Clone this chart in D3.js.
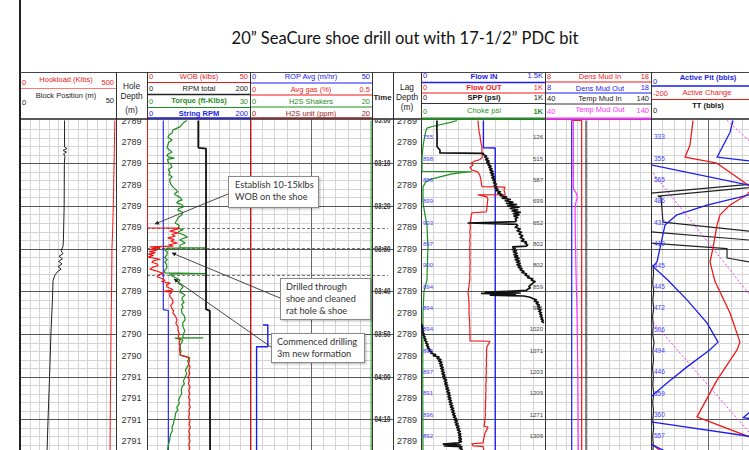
<!DOCTYPE html>
<html><head><meta charset="utf-8">
<script src="https://cdn.jsdelivr.net/npm/d3@7/dist/d3.min.js"></script>
<style>html,body{margin:0;padding:0;background:#fff}svg{display:block}</style>
</head><body><svg id="chart" width="749" height="450"></svg>
<script>
// ================= DATA =================
const titleText = "20\u201D SeaCure shoe drill out with 17-1/2\u201D PDC bit";
// time axis in minutes after 03:00
const timeTickMinutes = [0,10,20,30,40,50,60,70];
const timeTickLabels  = ["03:00","03:10","03:20","03:30","03:40","03:50","04:00","04:10"];
const depthRowMinutes = [0,5,10,15,20,25,30,35,40,45,50,55,60,65,70,75];
const holeDepthLabels = ["2789","2789","2789","2789","2789","2789","2789","2789","2789","2789","2790","2790","2791","2791","2791","2791"];
const lagDepthLabels  = ["2789","2789","2789","2789","2789","2789","2789","2789","2789","2789","2789","2789","2789","2789","2789","2789"];
const flowInLabels = ["755","898","896","899","903","897","900","894","894","894","895","897","891","896","892"];
const sppLabels    = ["126","515","587","699","652","802","802","859","981","1020","1071","1203","1209","1271","1309"];
const pitLabels    = ["333","355","565","486","432","419","445","445","472","506","494","446","359","360","557"];
const eventMinutes = [25.2, 29.85, 36.2];

const hookload = [[0,494],[5,492],[10,490],[15,488],[20,486],[25,483],[30,479],[35,478],[40,477],[45,475],[50,474],[55,473],[60,472],[65,471],[70,470],[77.3,469]];
const blockPos = [[0,23.2],[6.2,23.2],[6.6,24.5],[7.0,22.4],[7.4,24.2],[7.8,22.7],[8.4,23.4],[10,23.1],[20,23.0],[28,22.6],[29.5,22.4],[30.5,21.4],[31.2,22.4],[31.8,20.3],[32.4,22.1],[33.0,20.1],[33.6,21.9],[34.2,19.8],[34.8,21.4],[35.4,19.5],[36.2,18.2],[37.5,17.2],[42,16.9],[50,16.1],[60,15.4],[70,14.6],[77.3,14.1]];

const wob = [[0,0.2],[25.15,0.2],[25.2,16.0],[25.5,14.1],[25.9,11.2],[26.3,15.0],[26.7,12.1],[27.1,13.6],[27.5,10.2],[27.9,13.1],[28.3,11.7],[28.7,14.6],[29.1,10.7],[29.4,12.6],[29.6,1.5],[29.85,6.3],[30.1,2.0],[30.4,4.5],[30.7,1.2],[31.0,3.9],[31.3,0.8],[31.6,3.0],[32.0,0.5],[32.5,6.3],[32.8,3.2],[33.2,2.4],[33.6,5.0],[34.0,5.3],[34.4,2.6],[34.8,1.5],[35.2,4.4],[35.8,7.8],[36.2,5.4],[36.6,4.9],[37.0,7.2],[37.4,8.7],[37.7,7.1],[38.1,11.2],[38.5,9.5],[39.0,9.7],[39.4,11.8],[39.7,12.6],[40.0,7.8],[40.2,12.1],[40.7,11.0],[41.3,11.2],[41.9,12.4],[42.7,12.6],[43.3,11.5],[44.0,12.1],[44.6,12.9],[45.1,12.6],[45.8,13.8],[46.7,14.6],[47.5,14.0],[48.3,15.1],[49.1,15.0],[49.9,15.6],[50.6,15.2],[51.4,16.0],[52.2,15.6],[53.0,16.1],[53.7,15.7],[54.4,16.0],[55.0,16.3],[55.4,19.9],[56.2,20.6],[57.0,20.2],[57.7,20.9],[58.5,20.3],[59.3,20.8],[60.1,19.9],[60.8,20.6],[61.6,20.1],[62.4,20.9],[63.2,20.3],[64.0,20.8],[64.7,20.2],[65.5,20.9],[66.3,20.4],[67.1,21.0],[67.9,20.3],[68.7,20.7],[69.5,20.2],[70.3,20.9],[71.1,20.5],[71.9,21.0],[72.7,20.3],[73.5,20.8],[74.3,20.4],[75.1,20.9],[75.9,20.3],[76.7,20.8],[77.3,20.5]];
const rpmTotal = [[0,99.6],[6.2,99.6],[6.4,101],[6.6,114.6],[44.2,114.6],[44.6,122],[77.3,122.5]];
const torque = [[0,11.6],[0.6,10.5],[1.5,9.6],[2.2,7.6],[2.9,7.3],[3.4,6.4],[3.9,6.1],[4.6,7.3],[5.1,6.3],[5.7,6.1],[6.4,5.8],[6.9,6.6],[7.4,7.3],[8.1,5.8],[8.5,6.2],[8.8,7.9],[9.1,6.0],[9.7,6.1],[10.3,6.9],[10.9,7.3],[11.5,6.2],[12.1,6.7],[12.7,6.4],[13.2,7.3],[13.8,6.6],[14.4,6.7],[15.0,7.0],[15.6,7.6],[16.2,8.4],[16.7,9.0],[17.1,8.0],[17.4,8.2],[18.0,9.6],[18.6,10.2],[19.0,8.9],[19.3,8.7],[19.8,10.4],[20.3,10.5],[20.6,9.2],[21.0,9.0],[21.5,10.4],[22.1,10.2],[22.7,9.1],[23.3,8.7],[24.0,8.2],[24.6,9.4],[25.2,9.0],[25.6,10.5],[26.0,9.3],[26.3,9.0],[26.8,10.8],[27.3,11.7],[27.7,10.2],[28.0,9.6],[28.4,10.6],[28.7,11.1],[29.1,9.8],[29.4,9.6],[29.8,9.6],[29.82,16.9],[29.88,5.8],[30.3,5.2],[30.8,5.9],[31.5,5.8],[32.1,5.1],[32.6,5.9],[33.1,5.2],[33.7,5.7],[34.5,5.8],[35.1,5.1],[35.7,5.2],[35.85,16.9],[35.95,6.7],[36.6,7.6],[37.0,8.8],[37.4,9.6],[37.8,9.2],[38.1,9.0],[38.6,10.1],[39.0,10.5],[39.6,9.8],[40.2,9.6],[40.6,10.6],[40.9,11.1],[41.4,10.3],[42.0,10.2],[42.6,10.8],[43.1,10.1],[43.7,10.5],[44.3,10.0],[45.1,10.2],[45.8,10.9],[46.7,11.1],[47.4,10.4],[48.4,10.5],[49.2,11.0],[50.3,10.5],[50.85,10.5],[50.9,16.3],[50.95,8.2],[51.4,10.4],[51.9,10.2],[52.5,9.7],[53.0,9.6],[54.0,9.9],[54.9,9.6],[55.6,12.5],[56.3,11.8],[57.0,12.2],[57.7,11.7],[58.5,11.2],[59.3,11.6],[60.1,11.1],[61.0,10.6],[61.7,10.9],[62.4,10.2],[63.3,10.0],[64.0,10.1],[64.7,9.6],[65.5,9.2],[66.3,9.4],[67.1,8.7],[67.9,8.9],[68.6,8.3],[69.4,8.2],[70.2,7.9],[71.0,7.7],[71.8,7.3],[72.6,7.4],[73.4,6.9],[74.1,6.7],[74.9,6.6],[75.7,6.3],[76.5,6.1],[77.3,6.0]];
const stringRpm = [[0,31.6],[44.3,31.6],[44.5,41.4],[77.3,41.4]];

const ropAvg = [[47.9,5.3],[53.0,7.3],[64.7,2.7],[77.3,2.7]];
const avgGas = [[0,0.004],[77.3,0.004]];
const h2sShakers = [[0,19.85],[77.3,19.85]];
const h2sUnit = [[0,0],[77.3,0]];

const flowIn = [[0,755],[6.4,755],[6.45,898],[77.3,898]];
const flowOut = [[0,460],[1,462],[2,466],[3,470],[3.5,476],[4.5,479],[5.3,484],[6.1,492],[7,490],[8,494],[8.8,492],[9.2,470],[9.5,435],[10,403],[10.5,419],[11,395],[11.6,411],[12.1,460],[12.6,470],[13,476],[14,484],[15,488],[15.5,492],[15.6,677],[16.3,669],[17.0,677],[17.35,677],[17.4,460],[17.9,532],[18.5,540],[19,536],[20.3,532],[21.0,530],[21.4,524],[21.6,411],[22.3,405],[23,403],[24,395],[25,398],[26,394],[27,397],[28,393],[29,396],[30,392],[31,396],[32,393],[33,397],[34,394],[35,396],[36,392],[37,395],[38,390],[39,386],[40.4,379],[41.5,384],[43,388],[45,387],[47,392],[49,394],[51,395],[51.6,395],[51.7,556],[52.3,545],[53,532],[54,528],[55,530],[56,526],[57,529],[58,525],[59,527],[60,524],[61,526],[62,522],[63,525],[64,521],[65,523],[66,519],[67,521],[68,517],[69,520],[70,516],[71,512],[71.6,508],[71.8,540],[72.4,532],[73.2,516],[74,510],[75.5,500],[75.7,411],[76.2,420],[76.3,500],[77.3,508]];
const spp = [[0,129],[2,128],[4,130],[6.1,129],[6.5,140],[6.9,153],[7.6,153],[7.7,500],[8.0,505],[8.3,528],[8.6,515],[8.9,540],[9.2,522],[9.5,548],[9.8,530],[10.1,556],[10.4,540],[10.7,565],[11.0,548],[11.3,572],[11.6,555],[11.9,580],[12.2,560],[12.5,585],[12.8,568],[13.1,590],[13.4,572],[13.7,596],[14.0,580],[14.3,600],[14.6,585],[14.9,608],[15.2,590],[15.5,612],[15.8,598],[16.1,620],[16.4,605],[16.7,640],[17.0,620],[17.3,650],[17.6,640],[17.9,690],[18.2,655],[18.5,720],[18.8,680],[19.1,740],[19.4,690],[19.7,770],[20.0,700],[20.3,790],[20.6,720],[20.9,780],[21.2,735],[21.5,800],[21.8,745],[22.1,790],[22.4,750],[22.7,780],[23.0,760],[23.4,770],[23.7,760],[24.0,380],[24.3,770],[24.6,780],[25.0,760],[25.4,800],[25.8,775],[26.2,810],[26.6,790],[27.0,820],[27.4,800],[27.8,830],[28.2,810],[28.5,850],[28.8,840],[29.1,860],[29.4,850],[29.6,740],[29.9,760],[30.2,735],[30.5,770],[30.8,745],[31.1,775],[31.4,750],[31.7,780],[32.0,755],[32.3,790],[32.6,760],[32.9,795],[33.2,770],[33.5,800],[33.8,775],[34.1,805],[34.4,785],[34.7,815],[35.0,800],[35.3,830],[35.6,815],[35.9,850],[36.2,840],[36.5,870],[36.8,860],[37.1,900],[37.4,890],[37.7,920],[38.0,905],[38.3,895],[38.6,880],[38.9,870],[39.2,880],[39.5,860],[39.8,850],[40.0,700],[40.2,520],[40.4,800],[40.5,490],[40.7,760],[40.9,560],[41.1,830],[41.4,880],[41.7,900],[42.0,930],[42.3,915],[42.6,945],[42.9,930],[43.2,955],[43.5,940],[43.8,960],[44.1,945],[44.4,965],[44.7,950],[45.0,972],[45.3,958],[45.6,975],[45.9,962],[46.2,980],[46.5,968],[46.8,985],[47.1,975],[47.4,992],[47.6,1010],[47.9,1004],[48.2,1014],[48.5,1006],[48.8,1018],[49.1,1008],[49.4,1020],[49.7,1012],[50.0,1026],[50.3,1016],[50.6,1032],[50.9,1022],[51.2,1040],[51.5,1030],[51.8,1048],[52.1,1038],[52.4,1056],[52.7,1044],[53.0,1062],[53.3,1052],[53.6,1072],[53.9,1064],[54.2,1090],[54.5,1080],[54.8,1118],[55.1,1100],[55.4,1145],[55.7,1130],[56.0,1160],[56.3,1142],[56.6,1168],[56.9,1150],[57.2,1172],[57.5,1155],[57.8,1178],[58.1,1160],[58.4,1182],[58.7,1165],[59.0,1188],[59.3,1170],[59.6,1192],[59.9,1176],[60.2,1200],[60.5,1182],[60.8,1206],[61.1,1188],[61.4,1210],[61.7,1192],[62.0,1215],[62.3,1198],[62.6,1220],[62.9,1202],[63.2,1226],[63.5,1208],[63.8,1232],[64.1,1214],[64.4,1236],[64.7,1218],[65.0,1240],[65.3,1222],[65.6,1244],[65.9,1228],[66.2,1250],[66.5,1232],[66.8,1256],[67.1,1238],[67.4,1262],[67.7,1244],[68.0,1266],[68.3,1250],[68.6,1272],[68.9,1256],[69.2,1278],[69.5,1262],[69.8,1285],[70.1,1268],[70.4,1292],[70.7,1274],[71.0,1298],[71.3,1280],[71.6,1305],[71.9,1288],[72.2,1310],[72.5,1294],[72.8,1316],[73.1,1300],[73.4,1320],[73.7,1304],[74.0,1322],[74.3,1306],[74.6,1325],[74.9,1308],[75.2,1326],[75.5,1300],[75.8,1180],[76.0,1320],[76.2,1190],[76.4,1330],[76.7,1312],[77.0,1332],[77.3,1318]];
const choke = [[0,290],[0.5,230],[1.0,153],[1.4,90],[1.8,48],[2.6,38],[3.4,32],[5,22],[6.1,16],[8.8,8],[11.9,8],[12.0,411],[12.2,330],[12.5,250],[13.2,153],[13.9,60],[14.5,35],[15.6,16],[19.1,16],[22.1,32],[24.5,48],[29.6,56],[33,52],[37.4,48],[40,24],[45,16],[60,14],[77.3,16]];

const densIn  = [[0,10.52],[28.7,11.46],[77.3,11.46]];
const densOut = [[0,10.52],[77.3,10.52]];
const tempIn  = [[0,78.7],[77.3,78.7]];
const tempOut = [[0,66.7],[16.0,66.8],[17.0,69.5],[18.0,70.5],[19.3,69.0],[21.0,68.3],[35,69.2],[45,70.2],[60,71.0],[77.3,71.4]];

const activePitSegs = [
  [[0,359.6],[2.8,346.5],[8.6,289.5],[9.9,500]],
  [[10.4,0],[15.9,500]],
  [[16.5,500],[19.8,245.6],[22.1,114],[24.5,61.4],[29.9,39.5],[33.1,26.3],[34.2,8.8],[37.4,74.6],[42.0,157.9],[47.4,245.6],[51.9,293.9],[53.7,258.8],[57.7,157.9],[61.5,70.2],[64.3,8.8],[64.6,0]],
  [[65.5,500],[69.6,403.5],[70.3,500]],
  [[70.6,0],[74.5,500]],
  [[75.8,0],[77.3,57]]
];
const activeChangeSegs = [
  [[0,-52.6],[5.8,-63.2],[8.6,-80.7],[10.0,31.6],[15.1,140.4],[16.0,154],[17.4,136.8],[19.8,77.2],[22.1,42.1],[24.5,31.6],[29.9,17.5],[33.1,7.0],[37.6,24],[45.1,77.2],[51.9,112.3],[53.7,101.8],[60.8,31.6],[69.4,-38.6],[75.5,200]],
  [[76.0,-193],[77.3,-168]]
];
const ttSegs = [
  [[14.6,100],[17.0,0]],
  [[15.4,100],[17.7,6.1],[17.9,8.8],[23.8,10.5],[26.3,100]],
  [[26.1,0],[28.3,100]],
  [[28.7,0],[30.0,66.7],[32.2,66.7],[33.8,100]],
  [[33.8,1.8],[36,2.2],[38,1.5],[40,2.4],[42,1.6],[44,2.3],[46,1.4],[48,2.0],[50,1.5],[52,2.6],[54,1.7],[56,2.2],[58,1.4],[60,2.1],[62,1.6],[64,2.4],[66,1.5],[68,2.2],[70,1.6],[72,2.3],[74,1.5],[76,2.0],[77.3,1.7]]
];
const pitTotalSegs = [
  [[0,66.7],[5.2,88]],
  [[12.3,1.75],[45.3,100]],
  [[47.2,1.75],[77.3,100]]
];

// ================= DRAWING =================
const FONT = '"Liberation Sans", Arial, Helvetica, sans-serif';
const svg = d3.select('#chart');
const y = d3.scaleLinear().domain([0, 77.5]).range([120.5, 120.5 + 77.5 * 4.27]);
const TR = {t1:[20,116], t2:[147,250], t3:[250,372], t4:[421,545], t5:[545,651], t6:[651,765]};
const DARKMID = {t3:true, t6:true};

const xs = {
  hook: d3.scaleLinear([0,500], TR.t1), block: d3.scaleLinear([0,50], TR.t1),
  wob: d3.scaleLinear([0,50], TR.t2), rpm: d3.scaleLinear([0,200], TR.t2),
  torque: d3.scaleLinear([0,30], TR.t2), srpm: d3.scaleLinear([0,200], TR.t2),
  rop: d3.scaleLinear([0,50], TR.t3), gas: d3.scaleLinear([0,0.5], TR.t3),
  h2sS: d3.scaleLinear([0,20], TR.t3), h2sU: d3.scaleLinear([0,20], TR.t3),
  flowIn: d3.scaleLinear([0,1500], TR.t4), flowOut: d3.scaleLinear([0,1000], TR.t4),
  spp: d3.scaleLinear([0,1000], TR.t4), choke: d3.scaleLinear([0,1000], TR.t4),
  dens: d3.scaleLinear([8,18], TR.t5), temp: d3.scaleLinear([40,140], TR.t5),
  pit: d3.scaleLinear([0,500], TR.t6), chg: d3.scaleLinear([-200,200], TR.t6),
  tt: d3.scaleLinear([0,100], TR.t6), pvt: d3.scaleLinear([0,100], TR.t6)
};

const defs = svg.append('defs');
Object.entries(TR).forEach(([k,[a,b]]) => {
  defs.append('clipPath').attr('id','clip-'+k).append('rect')
    .attr('x',a).attr('y',119.5).attr('width',b-a).attr('height',340);
});
defs.append('clipPath').attr('id','clip-data').append('rect')
  .attr('x',0).attr('y',119.5).attr('width',749).attr('height',340);
const mk = defs.append('marker').attr('id','arrow').attr('viewBox','0 0 10 10')
  .attr('refX',9).attr('refY',5).attr('markerWidth',5).attr('markerHeight',5).attr('orient','auto');
mk.append('path').attr('d','M0,0L10,5L0,10z').attr('fill','#222');
const shadow = defs.append('filter').attr('id','shadow').attr('x','-10%').attr('y','-10%').attr('width','130%').attr('height','140%');
shadow.append('feDropShadow').attr('dx',1.2).attr('dy',1.2).attr('stdDeviation',0.8).attr('flood-color','#000').attr('flood-opacity',0.25);

svg.append('rect').attr('width',749).attr('height',450).attr('fill','#fff');

// ---- grid
const grid = svg.append('g').attr('clip-path','url(#clip-data)');
const minorT = d3.range(2, 78, 2).filter(t => t % 10 !== 0);
const majorT = d3.range(10, 78, 10);
const cy = v => Math.round(v) + 0.5;
Object.entries(TR).forEach(([k,[a,b]]) => {
  minorT.forEach(t => grid.append('line').attr('x1',a).attr('x2',b).attr('y1',cy(y(t))).attr('y2',cy(y(t)))
    .attr('stroke','#d4d4d4').attr('stroke-width',1));
  for (let i = 1; i < 10; i++) {
    const x = cy(a + (b - a) * i / 10);
    const dark = (i === 5 && DARKMID[k]);
    grid.append('line').attr('x1',x).attr('x2',x).attr('y1',119).attr('y2',450)
      .attr('stroke', dark ? '#666' : '#d4d4d4').attr('stroke-width',1);
  }
});
[[20,116],[147,393],[421,749]].forEach(([a,b]) => {
  majorT.forEach(t => grid.append('line').attr('x1',a).attr('x2',b).attr('y1',cy(y(t))).attr('y2',cy(y(t)))
    .attr('stroke','#555').attr('stroke-width',1));
});

// ---- event dashed lines
eventMinutes.forEach(t => svg.append('line').attr('x1',147).attr('x2',388)
  .attr('y1',cy(y(t))).attr('y2',cy(y(t))).attr('stroke','#777').attr('stroke-width',1).attr('stroke-dasharray','3,2'));

// ---- column borders
[116,147,250,372,393,421,545,651].forEach(x => svg.append('line').attr('x1',x+0.5).attr('x2',x+0.5)
  .attr('y1',72).attr('y2',450).attr('stroke','#333').attr('stroke-width',1));
svg.append('line').attr('x1',20).attr('x2',20).attr('y1',0).attr('y2',450).attr('stroke','#222').attr('stroke-width',2);

// ---- series
function drawSeries(data, scale, color, key, opt = {}) {
  const line = d3.line().defined(d => d[1] != null).x(d => scale(d[1])).y(d => y(d[0]));
  if (opt.curve) line.curve(opt.curve);
  svg.append('path').attr('clip-path',`url(#clip-${key})`).attr('d', line(data))
    .attr('fill','none').attr('stroke',color).attr('stroke-width',opt.w || 1.2)
    .attr('stroke-dasharray', opt.dash || null).attr('stroke-linejoin','round');
}
function wrapSeries(data, period) {
  const out = []; let prev = null;
  data.forEach(([t, v]) => {
    const band = Math.floor(v / period);
    if (prev !== null && band !== prev) out.push([t, null]);
    out.push([t, v - band * period]); prev = band;
  });
  return out;
}
const RED = '#f01818', BLUE = '#1c1cf0', GREEN = '#1e8f1e', MAG = '#ff33ff';

drawSeries(hookload, xs.hook, RED, 't1', {w:1});
drawSeries(blockPos, xs.block, '#222', 't1', {w:1});

drawSeries(stringRpm, xs.srpm, BLUE, 't2', {w:1.1});
drawSeries(rpmTotal, xs.rpm, '#111', 't2', {w:1.8});
drawSeries(torque, xs.torque, GREEN, 't2', {w:1.2});
drawSeries(wob, xs.wob, RED, 't2', {w:1.2});

drawSeries(h2sUnit, xs.h2sU, '#a02828', 't3', {w:1});
drawSeries(avgGas, xs.gas, RED, 't3', {w:1});
drawSeries(h2sShakers, xs.h2sS, GREEN, 't3', {w:1});
drawSeries(ropAvg, xs.rop, BLUE, 't3', {w:1.4, curve:d3.curveStepAfter});

drawSeries(choke, xs.choke, GREEN, 't4', {w:1.2});
drawSeries(flowIn, xs.flowIn, BLUE, 't4', {w:1.4});
drawSeries(flowOut, xs.flowOut, RED, 't4', {w:1.2});
drawSeries(wrapSeries(spp, 1000), xs.spp, '#111', 't4', {w:1.7});

drawSeries(tempIn, xs.temp, '#333', 't5', {w:1.2});
drawSeries(densOut, xs.dens, BLUE, 't5', {w:1.2});
drawSeries(densIn, xs.dens, RED, 't5', {w:1.2, curve:d3.curveStepAfter});
drawSeries(tempOut, xs.temp, MAG, 't5', {w:1.2});

pitTotalSegs.forEach(s => drawSeries(s, xs.pvt, MAG, 't6', {w:1, dash:'2,2'}));
ttSegs.forEach(s => drawSeries(s, xs.tt, '#222', 't6', {w:1.2}));
activeChangeSegs.forEach(s => drawSeries(s, xs.chg, RED, 't6', {w:1.3}));
activePitSegs.forEach(s => drawSeries(s, xs.pit, BLUE, 't6', {w:1.3}));

// ---- row labels
const lab = svg.append('g').attr('clip-path','url(#clip-data)').attr('font-family',FONT);
depthRowMinutes.forEach((t,i) => {
  lab.append('text').attr('x',131.5).attr('y',y(t)).attr('dy','0.35em').attr('text-anchor','middle')
    .attr('font-size',9).attr('fill','#333').text(holeDepthLabels[i]);
  lab.append('text').attr('x',407).attr('y',y(t)).attr('dy','0.35em').attr('text-anchor','middle')
    .attr('font-size',9).attr('fill','#333').text(lagDepthLabels[i]);
});
timeTickMinutes.forEach((t,i) => {
  lab.append('text').attr('x',374.5).attr('y',y(t)).attr('dy','0.35em')
    .attr('font-size',8.5).attr('font-weight','bold').attr('fill','#333')
    .attr('textLength',16).attr('lengthAdjust','spacingAndGlyphs').text(timeTickLabels[i]);
});
flowInLabels.forEach((s,i) => {
  const t = depthRowMinutes[i+1] - 1.1;
  lab.append('text').attr('x',423).attr('y',y(t)).attr('dy','0.35em').attr('font-size',6).attr('fill','#4040ff').text(s);
  lab.append('text').attr('x',543).attr('y',y(t)).attr('dy','0.35em').attr('text-anchor','end').attr('font-size',6).attr('fill','#444').text(sppLabels[i]);
  lab.append('text').attr('x',654).attr('y',y(t)).attr('dy','0.35em').attr('font-size',6.5).attr('fill','#4040ff').text(pitLabels[i]);
});

// ---- annotations
function callout(bx, by, bw, bh, lines, tx, from, to) {
  svg.append('line').attr('x1',from[0]).attr('y1',from[1]).attr('x2',to[0]).attr('y2',to[1])
    .attr('stroke','#333').attr('stroke-width',0.9).attr('marker-end','url(#arrow)');
  svg.append('rect').attr('x',bx+0.5).attr('y',by+0.5).attr('width',bw).attr('height',bh)
    .attr('fill','#fff').attr('stroke','#8a8a8a').attr('stroke-width',1).attr('filter','url(#shadow)');
  lines.forEach((l,i) => svg.append('text').attr('x',tx).attr('y',by + 11.5 + i*12)
    .attr('font-family','Lato, "Open Sans", sans-serif').attr('font-size',9.2).attr('fill','#333').text(l));
}
callout(228,176,90,31,["Establish 10-15klbs","WOB on the shoe"],235,[228,194],[155,224]);
callout(280,278,90,41,["Drilled through","shoe and cleaned","rat hole & shoe"],286,[280,298],[172,253]);
callout(271,333,93,29,["Commenced drilling","3m new formation"],277,[271,347],[174,279]);

// ---- header
svg.append('rect').attr('x',21).attr('y',0).attr('width',728).attr('height',72).attr('fill','#fff');
svg.append('line').attr('x1',20).attr('x2',749).attr('y1',72.5).attr('y2',72.5).attr('stroke','#444');
svg.append('line').attr('x1',20).attr('x2',749).attr('y1',119).attr('y2',119).attr('stroke','#222').attr('stroke-width',1.6);
svg.append('text').attr('x',405).attr('y',44).attr('text-anchor','middle')
  .attr('font-family','Lato, "Open Sans", sans-serif').attr('font-size',16.5).attr('fill','#111').text(titleText);

const H = svg.append('g').attr('font-family',FONT);
function ht(x, yc, s, color, anchor, size, bold) {
  H.append('text').attr('x',x).attr('y',yc).attr('dy','0.35em').attr('text-anchor',anchor||'start')
    .attr('fill',color).attr('font-size',size||7.5).attr('font-weight',bold?'bold':'normal').text(s);
}
function hl(x1, x2, yy, color, w) {
  H.append('line').attr('x1',x1).attr('x2',x2).attr('y1',yy).attr('y2',yy).attr('stroke',color).attr('stroke-width',w||1.2);
}
// track 1
ht(66,79,'Hookload (Klbs)',RED,'middle'); ht(22,82,'0',RED); ht(114,82,'500',RED,'end');
hl(21,116,88.5,'#f77',1);
ht(66,95.5,'Block Position (m)','#222','middle'); ht(22,102,'0','#222'); ht(114,100.5,'50','#222','end');
// hole depth
ht(131.5,86,'Hole','#222','middle',8.3); ht(131.5,96.5,'Depth','#222','middle',8.3); ht(131.5,110,'(m)','#222','middle',8.3);
// track 2
ht(199,76,'WOB (klbs)',RED,'middle'); ht(149,76,'0',RED); ht(248,76,'50',RED,'end'); hl(147,250,82.5,RED);
ht(199,88.5,'RPM total','#222','middle'); ht(149,88.5,'0','#222'); ht(248,88.5,'200','#222','end'); hl(147,250,94.5,'#222',1.6);
ht(199,100.5,'Torque (ft-Klbs)',GREEN,'middle',7.5,true); ht(149,101,'0',GREEN); ht(248,101,'30',GREEN,'end'); hl(147,250,107.5,GREEN);
ht(199,113,'String RPM',BLUE,'middle',7.5,true); ht(149,113,'0',BLUE); ht(248,113,'200',BLUE,'end'); hl(147,250,118,BLUE,1.4);
// track 3
ht(311,76.5,'ROP Avg (m/hr)',BLUE,'middle'); ht(252,76.5,'0',BLUE); ht(370,76.5,'50',BLUE,'end'); hl(250,372,83,BLUE);
ht(311,89,'Avg gas (%)',RED,'middle'); ht(252,89,'0',RED); ht(370,89,'0.5',RED,'end'); hl(250,372,95,RED);
ht(311,101.5,'H2S Shakers',GREEN,'middle'); ht(252,101.5,'0',GREEN); ht(370,101.5,'20',GREEN,'end'); hl(250,372,107,GREEN);
ht(311,113,'H2S unit    (ppm)','#9a2020','middle'); ht(252,113,'0','#9a2020'); ht(370,113,'20','#9a2020','end'); hl(250,372,118,'#9a2020',1.4);
// time + lag
ht(382.5,97,'Time','#222','middle',7.8,true);
ht(407,87.5,'Lag','#222','middle',8.3); ht(407,97.5,'Depth','#222','middle',8.3); ht(407,107.5,'(m)','#222','middle',8.3);
// track 4
ht(484,76,'Flow IN',BLUE,'middle',7.6,true); ht(423,75,'0',BLUE); ht(543,75,'1.5K',BLUE,'end'); hl(421,545,82.5,BLUE,1.4);
ht(484,87.5,'Flow OUT',RED,'middle',7.6,true); ht(423,87,'0',RED); ht(543,87,'1K',RED,'end'); hl(421,545,93,RED);
ht(484,97.5,'SPP (psi)','#111','middle',7.6,true); ht(423,97,'0','#222'); ht(543,97,'1K','#222','end'); hl(421,545,103.5,'#333',1);
ht(484,110,'Choke psi',GREEN,'middle',7.6); ht(423,111,'0',GREEN); ht(543,111,'1K',GREEN,'end',7.5,true); hl(421,545,118.5,GREEN,2.2);
// track 5
ht(600,76,'Dens Mud In',RED,'middle'); ht(547,76,'8',RED); ht(649,76,'18',RED,'end'); hl(545,651,82,RED);
ht(600,88,'Dens Mud Out',BLUE,'middle'); ht(547,87,'8',BLUE); ht(649,87,'18',BLUE,'end'); hl(545,651,93,BLUE);
ht(600,98.5,'Temp Mud In','#222','middle'); ht(547,98.5,'40','#222'); ht(649,98.5,'140','#222','end'); hl(545,651,104,'#333',1);
ht(600,109.5,'Temp Mud Out',MAG,'middle'); ht(547,111,'40',MAG); ht(649,110,'140',MAG,'end'); hl(545,651,118.5,MAG,2.2);
// track 6
ht(708,77,'Active Pit (bbls)',BLUE,'middle',7.5,true); ht(653,81,'0',BLUE); hl(651,749,86,BLUE,1.4);
ht(707,92.5,'Active Change',RED,'middle'); ht(653,93.5,'-200',RED); hl(651,749,99.5,RED,1.2);
ht(708,105.5,'TT (bbls)','#111','middle',7.5,true); ht(653,110,'0','#222');
// header column borders
[116,147,250,372,393,421,545,651].forEach(x => H.append('line').attr('x1',x+0.5).attr('x2',x+0.5)
  .attr('y1',72).attr('y2',119).attr('stroke','#333').attr('stroke-width',1));
</script></body></html>
